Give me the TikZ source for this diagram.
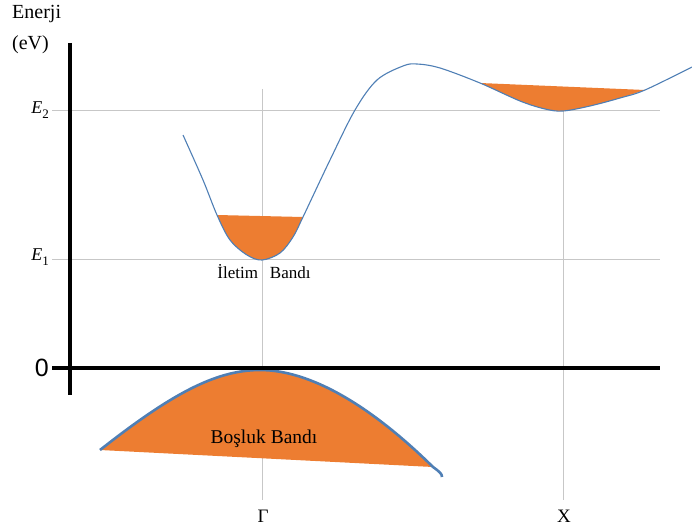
\documentclass[tikz,border=0pt]{standalone}
\usepackage{fontspec}
\setmainfont{Liberation Serif}
\newfontfamily\zerofont{Liberation Sans}
\newcommand{\myE}[1]{{\itshape E}\raisebox{-0.28em}{\fontsize{13}{13}\selectfont #1}}
\begin{document}
\begin{tikzpicture}[x=1pt,y=-1pt]
\definecolor{orange1}{HTML}{ED7D31}
\definecolor{curveblue}{HTML}{4F7FB5}
\tikzset{
  grid/.style={draw=black!22,line width=1pt},
  axis/.style={draw=black,line width=3.2pt},
  bandfill/.style={fill=orange1},
  band/.style={draw=curveblue,line width=1.1pt},
  vband/.style={draw=curveblue,line width=2.6pt},
  lbl/.style={inner sep=0pt}}
\useasboundingbox (0,0) rectangle (692,529);
% grid lines
\draw[grid] (52,111) -- (660,111);
\draw[grid] (52,259) -- (660,259);
\draw[grid] (262,89) -- (262,500);
\draw[grid] (563,111) -- (563,500);
% fills
\fill[bandfill] plot[smooth,tension=0.55] coordinates {(217,215) (230,240) (247,255) (262,260) (280,253) (293,237) (303,217)} -- cycle;
\fill[bandfill] plot[smooth,tension=0.55] coordinates {(480,83) (520,101) (545,109) (563,111) (590,106) (620,98) (645,90)} -- cycle;
\fill[bandfill] (100,450) .. controls (170,395) and (215,370) .. (260,370) .. controls (310,370) and (370,405) .. (433,467) -- cycle;
% conduction band
\draw[band] plot[smooth,tension=0.55] coordinates {(183,135) (203,180) (217,215) (230,240) (247,255) (262,260) (280,253) (293,237) (303,217) (330,160) (355,110) (377,80) (403,66) (417,64) (440,68) (480,83) (520,101) (545,109) (563,111) (590,106) (620,98) (645,90) (692,67)};
% valence band
\draw[vband] (100,450) .. controls (170,395) and (215,370) .. (260,370) .. controls (310,370) and (370,405) .. (433,467) .. controls (440,472) and (442,474) .. (442,477);
% axes
\draw[axis] (70,43) -- (70,395);
\draw[axis] (52,368) -- (660,368);
% labels
\node[lbl,anchor=west,font=\fontsize{20}{22}\selectfont] (en) at (12,14) {Enerji};
\node[lbl,anchor=west,font=\fontsize{20}{22}\selectfont] (ev) at (12,45) {(eV)};
\node[lbl,anchor=east,font=\fontsize{18}{20}\selectfont] (e2) at (49,110) {\myE{2}};
\node[lbl,anchor=east,font=\fontsize{18}{20}\selectfont] (e1) at (49,257) {\myE{1}};
\node[lbl,anchor=east,font=\zerofont\fontsize{25}{27}\selectfont] (zero) at (49,368) {0};
\node[lbl,font=\fontsize{19}{21}\selectfont] (gam) at (263,516) {Γ};
\node[lbl,font=\fontsize{19}{21}\selectfont] (xx) at (564,516) {X};
\node[lbl,font=\fontsize{17}{19}\selectfont] (il) at (264,272) {İletim\hspace{0.7em}Bandı};
\node[lbl,font=\fontsize{19.5}{21}\selectfont] (bo) at (264,439) {Boşluk Bandı};
\end{tikzpicture}
\end{document}
